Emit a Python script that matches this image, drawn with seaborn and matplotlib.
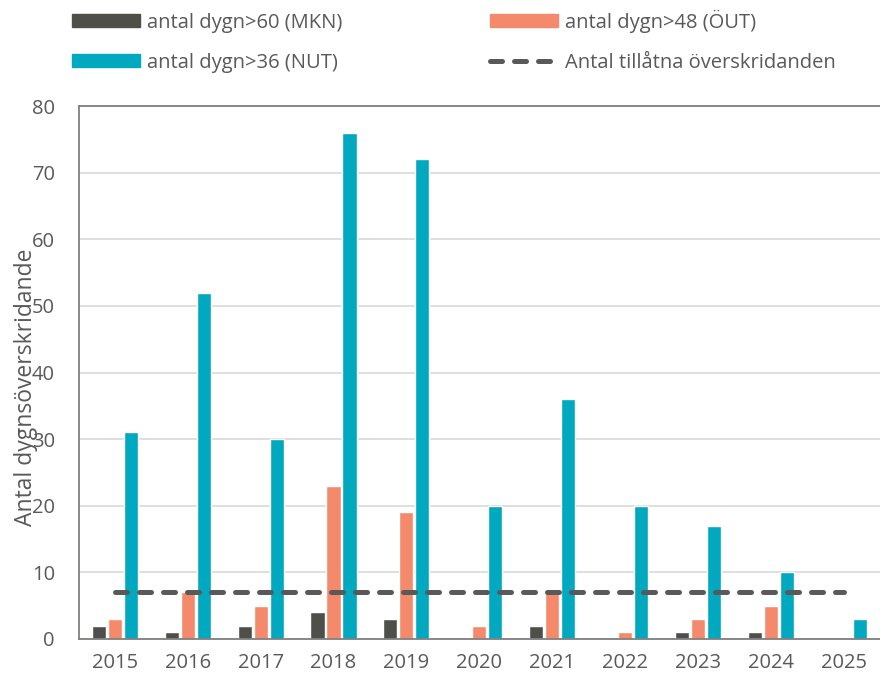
import matplotlib
matplotlib.use("Agg")
import matplotlib.pyplot as plt
import numpy as np
import pandas as pd
import seaborn as sns
from matplotlib.patches import Patch
from matplotlib.lines import Line2D

years = ['2015', '2016', '2017', '2018', '2019', '2020', '2021', '2022', '2023', '2024', '2025']
mkn = [2, 1, 2, 4, 3, 0, 2, 0, 1, 1, 0]
out = [3, 7, 5, 23, 19, 2, 7, 1, 3, 5, 0]
nut = [31, 52, 30, 76, 72, 20, 36, 20, 17, 10, 3]
limit = [7, 7, 7, 7, 7, 7, 7, 7, 7, 7, 7]

series = ['antal dygn>60 (MKN)', 'antal dygn>48 (ÖUT)', 'antal dygn>36 (NUT)']
colors = ['#4f4f4a', '#f4896b', '#00a9bf']
line_label = 'Antal tillåtna överskridanden'

rows = []
for name, vals in zip(series, [mkn, out, nut]):
    for y, v in zip(years, vals):
        rows.append({'År': y, 'serie': name, 'värde': v})
df = pd.DataFrame(rows)

sns.set_style('white')
plt.rcParams['font.family'] = ['Open Sans', 'DejaVu Sans']
txt = '#595959'

fig = plt.figure(figsize=(8.8, 6.81), dpi=100)
ax = fig.add_axes([78.5 / 880, 1 - 639 / 681, 1 - 78.5 / 880, (639 - 106) / 681])

sns.barplot(data=df, x='År', y='värde', hue='serie', palette=colors, width=0.66, gap=0.12,
            saturation=1, legend=False, ax=ax)
sns.lineplot(x=np.arange(len(years)), y=limit, color='#595959', lw=3.6, ax=ax)
ln = ax.lines[-1]
ln.set_dashes((2.4, 2.4))
ln.set_dash_capstyle('round')

ax.set_ylim(0, 80)
ax.set_xlim(-0.5, len(years) - 0.5)
ax.set_yticks(range(0, 81, 10))
ax.yaxis.grid(True, color='#d9d9d9', lw=1.2)
ax.set_axisbelow(True)
for s in ['left', 'bottom', 'top']:
    ax.spines[s].set_color('#7f7f7f')
    ax.spines[s].set_linewidth(1.3)
ax.spines['right'].set_visible(False)
ax.tick_params(axis='both', length=0, labelsize=14.5, colors=txt)
ax.tick_params(axis='y', pad=17)
ax.tick_params(axis='x', pad=10)
ax.set_xlabel('')
# the label sits over the tick labels, as in the original
ax.set_ylabel('Antal dygnsöverskridande', fontsize=16.5, color=txt)
ax.yaxis.set_label_coords(-0.050, 0.473)

handles = [Patch(color=colors[0]), Patch(color=colors[2]), Patch(color=colors[1]),
           Line2D([], [], color='#595959', lw=3.6, dashes=(2.4, 2.4), dash_capstyle='round')]
labels = [series[0], series[2], series[1], line_label]
fig.legend(handles, labels, ncol=2, loc='upper left', bbox_to_anchor=(0.061, 1.0125),
           frameon=False, fontsize=14.5, labelcolor=txt, handlelength=3.4, handleheight=0.6,
           handletextpad=0.35, columnspacing=7.3, labelspacing=1.0)

fig.savefig('out.png', dpi=100)
